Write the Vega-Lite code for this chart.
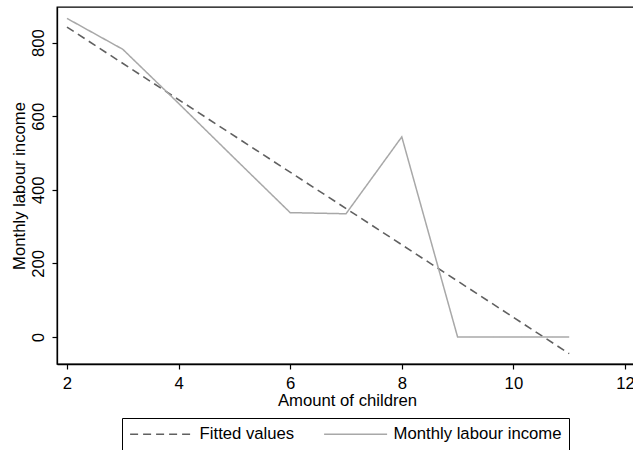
{
  "$schema": "https://vega.github.io/schema/vega-lite/v6.json",
  "width": 580,
  "height": 357,
  "autosize": "none",
  "padding": {"left": 57, "top": 7, "right": 0, "bottom": 86},
  "background": "white",
  "config": {
    "font": "Liberation Sans",
    "view": {"stroke": "black", "strokeWidth": 1.3},
    "axis": {
      "grid": false,
      "domainColor": "black",
      "domainWidth": 1.3,
      "tickColor": "black",
      "tickWidth": 1.2,
      "tickSize": 5,
      "labelFontSize": 16.7,
      "labelColor": "black",
      "titleFontSize": 16.7,
      "titleFontWeight": "normal",
      "titleColor": "black",
      "format": "d"
    },
    "legend": {
      "orient": "none",
      "legendX": 65,
      "legendY": 411,
      "direction": "horizontal",
      "columns": 2,
      "strokeColor": "black",
      "padding": 7,
      "symbolType": "M-4,0H4",
      "symbolSize": 248,
      "symbolOffset": 23.6,
      "symbolStrokeWidth": 1.5,
      "labelFontSize": 16.7,
      "labelColor": "black",
      "labelOffset": 29,
      "labelLimit": 300,
      "columnPadding": 26,
      "title": null
    }
  },
  "data": {
    "values": [
      {"children": 2, "income": 866},
      {"children": 3, "income": 782},
      {"children": 4, "income": 635},
      {"children": 5, "income": 486},
      {"children": 6, "income": 338},
      {"children": 7, "income": 335},
      {"children": 8, "income": 544},
      {"children": 9, "income": 0},
      {"children": 10, "income": 0},
      {"children": 11, "income": 0}
    ]
  },
  "layer": [
    {
      "transform": [{"regression": "income", "on": "children"}],
      "mark": {"type": "line", "strokeWidth": 1.6},
      "encoding": {
        "x": {"field": "children", "type": "quantitative"},
        "y": {"field": "income", "type": "quantitative"},
        "color": {
          "datum": "Fitted values",
          "scale": {"domain": ["Fitted values", "Monthly labour income"], "range": ["#606060", "#a8a8a8"]},
          "legend": {"title": null}
        },
        "strokeDash": {
          "datum": "Fitted values",
          "scale": {"domain": ["Fitted values", "Monthly labour income"], "range": [[8, 5], [1, 0]]},
          "legend": {"title": null}
        }
      }
    },
    {
      "mark": {"type": "line", "strokeWidth": 1.5},
      "encoding": {
        "x": {
          "field": "children",
          "type": "quantitative",
          "title": "Amount of children",
          "scale": {"domain": [1.821, 12.215], "nice": false, "zero": false},
          "axis": {"values": [2, 4, 6, 8, 10, 12], "labelPadding": 6, "titlePadding": 1, "labelFlush": false}
        },
        "y": {
          "field": "income",
          "type": "quantitative",
          "title": "Monthly labour income",
          "scale": {"domain": [-73.4, 897], "nice": false, "zero": false},
          "axis": {"values": [0, 200, 400, 600, 800], "labelAngle": -90, "labelAlign": "center", "labelBaseline": "bottom", "labelPadding": 5, "titlePadding": 2, "labelFlush": false}
        },
        "color": {"datum": "Monthly labour income"},
        "strokeDash": {"datum": "Monthly labour income"}
      }
    }
  ],
  "resolve": {"scale": {"color": "shared", "strokeDash": "shared"}}
}
